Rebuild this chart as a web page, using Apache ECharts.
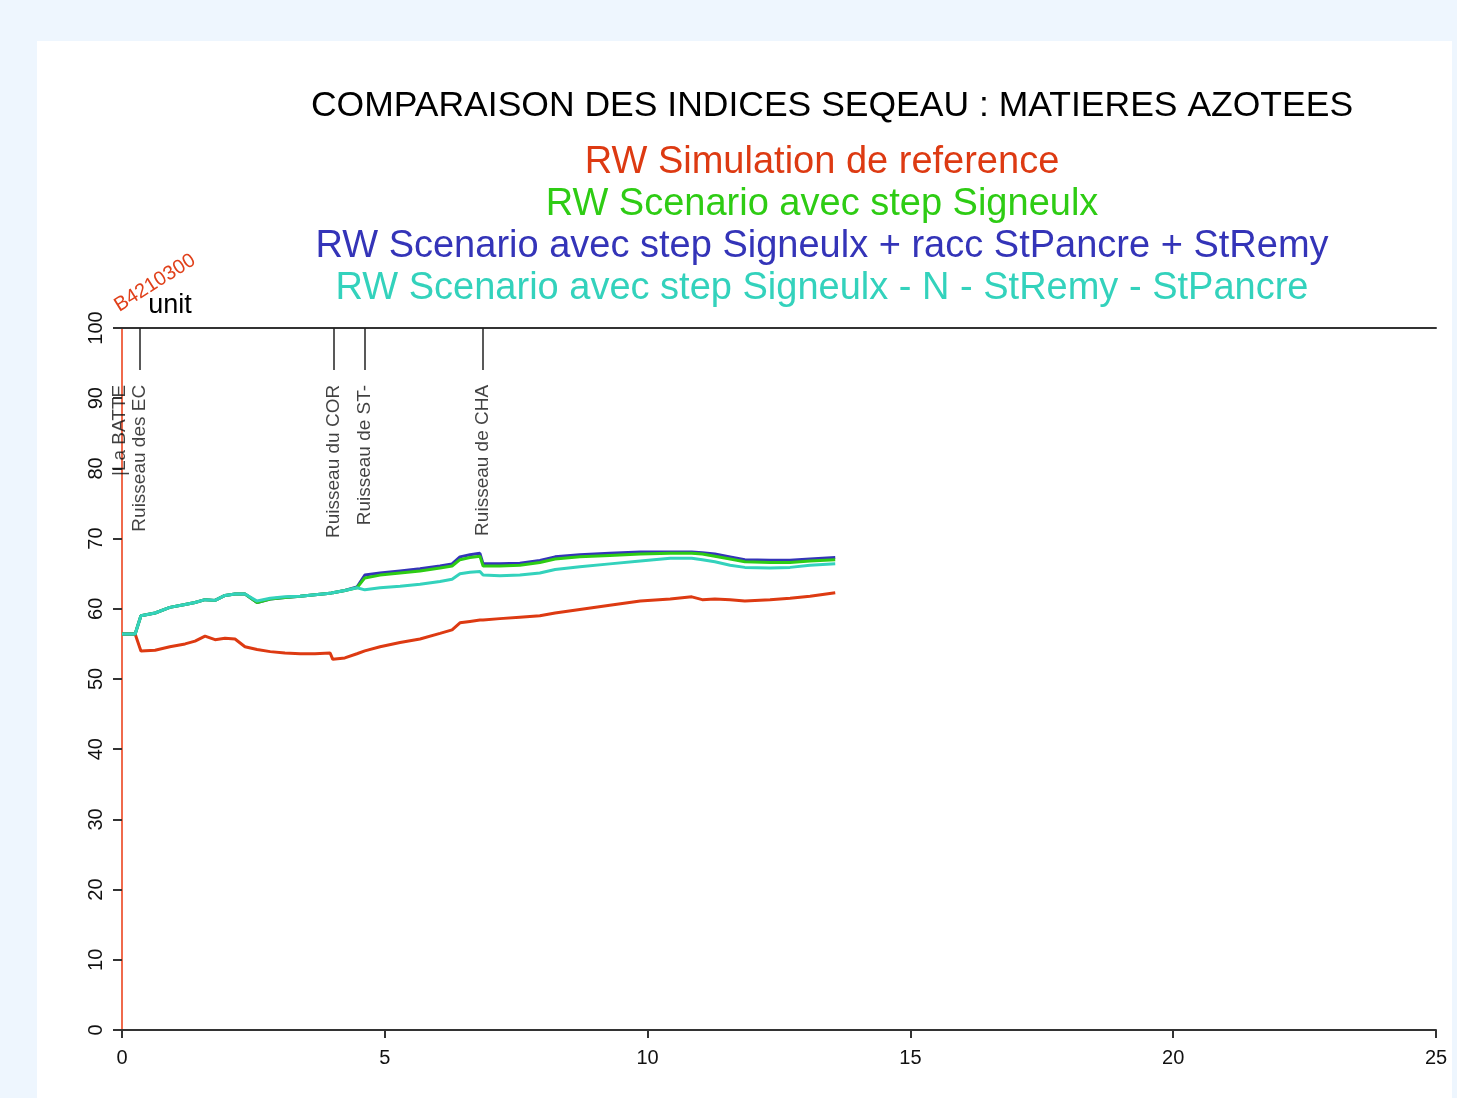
<!DOCTYPE html>
<html>
<head>
<meta charset="utf-8">
<script src="https://cdn.jsdelivr.net/npm/echarts@6/dist/echarts.min.js"></script>
<style>
html,body{margin:0;padding:0;background:#eef6fe;width:1457px;height:1098px;overflow:hidden;}
#panel{position:absolute;left:37px;top:41px;width:1415px;height:1057px;background:#ffffff;}
#chart{position:absolute;left:0;top:0;width:1457px;height:1098px;}
</style>
</head>
<body>
<div id="panel"></div>
<div id="chart"></div>
<script>
// distance along river (km)
const distance = [0,0.25,0.36,0.63,0.91,1.20,1.39,1.58,1.77,1.96,2.15,2.34,2.57,2.82,3.10,3.39,3.67,3.96,4.01,4.24,4.47,4.62,4.91,5.29,5.67,6.05,6.28,6.43,6.62,6.81,6.87,7.19,7.57,7.95,8.24,8.71,9.28,9.86,10.43,10.84,11.04,11.28,11.57,11.85,12.33,12.71,13.09,13.57];
// RW Simulation de reference
const reference = [56.4,56.4,54.0,54.1,54.6,55.0,55.4,56.1,55.6,55.8,55.7,54.6,54.2,53.9,53.7,53.6,53.6,53.7,52.8,53.0,53.6,54.0,54.6,55.2,55.7,56.5,57.0,58.0,58.2,58.4,58.4,58.6,58.8,59.0,59.4,59.9,60.5,61.1,61.4,61.7,61.3,61.4,61.3,61.1,61.3,61.5,61.8,62.3];
// RW Scenario avec step Signeulx
const scenarioStep = [56.4,56.4,59.0,59.4,60.2,60.6,60.9,61.3,61.2,61.9,62.1,62.1,60.9,61.4,61.6,61.8,62.0,62.2,62.3,62.6,63.0,64.4,64.8,65.1,65.4,65.8,66.1,67.0,67.3,67.5,66.1,66.1,66.2,66.6,67.1,67.4,67.6,67.8,67.9,67.9,67.8,67.5,67.1,66.7,66.6,66.6,66.8,67.0];
// RW Scenario avec step Signeulx + racc StPancre + StRemy
const scenarioRacc = [56.4,56.4,59.0,59.4,60.2,60.6,60.9,61.3,61.2,61.9,62.1,62.1,60.9,61.4,61.6,61.8,62.0,62.2,62.3,62.6,63.1,64.8,65.1,65.4,65.7,66.1,66.4,67.4,67.7,67.9,66.4,66.4,66.5,66.9,67.4,67.7,67.9,68.1,68.1,68.1,68.0,67.8,67.4,67.0,66.9,66.9,67.1,67.3];
// RW Scenario avec step Signeulx - N - StRemy - StPancre
const scenarioN = [56.4,56.4,59.0,59.4,60.2,60.6,60.9,61.3,61.2,61.9,62.1,62.1,61.1,61.5,61.7,61.8,62.0,62.2,62.3,62.6,63.0,62.7,63.0,63.2,63.5,63.9,64.2,65.0,65.2,65.3,64.8,64.7,64.8,65.1,65.6,66.0,66.4,66.8,67.2,67.2,67.0,66.7,66.2,65.9,65.8,65.9,66.2,66.4];

// tributary confluences
const stationNames = ['|La BATTE','Ruisseau des EC','Ruisseau du COR','Ruisseau de ST-','Ruisseau de CHA'];
const stationKm = [-0.04,0.34,4.03,4.62,6.87];
const stationTick = [false,true,true,true,true];

const xTicks = [0,5,10,15,20,25];

const seriesNames = ['RW Simulation de reference','RW Scenario avec step Signeulx','RW Scenario avec step Signeulx + racc StPancre + StRemy','RW Scenario avec step Signeulx - N - StRemy - StPancre'];
const seriesColors = ['#dd3a12','#2ecc14','#3434b8','#33d2bc'];

const zip = (xs, ys) => xs.map((x,i)=>[x,ys[i]]);

const chart = echarts.init(document.getElementById('chart'), null, {renderer:'canvas'});
const FONT = "'Liberation Sans', Arial, sans-serif";

const lineSeries = (name, data, color, z) => ({
  name, type:'line', data, symbol:'none', z,
  lineStyle:{color, width:3}, itemStyle:{color}, animation:false
});

const option = {
  backgroundColor:'transparent',
  animation:false,
  grid:{left:122, right:21, top:328, bottom:68, containLabel:false},
  xAxis:[{
    type:'value', min:0, max:25, interval:5,
    axisLine:{show:true, onZero:false, lineStyle:{color:'#333', width:2}},
    axisTick:{show:true, length:8, lineStyle:{color:'#333', width:2}},
    axisLabel:{color:'#111', fontSize:20, fontFamily:FONT, margin:18,
      customValues: xTicks},
    splitLine:{show:false}
  },{
    type:'value', min:0, max:25, position:'top',
    axisLine:{show:true, onZero:false, lineStyle:{color:'#333', width:2}},
    axisTick:{show:false}, axisLabel:{show:false}, splitLine:{show:false}
  }],
  yAxis:{
    type:'value', min:0, max:100, interval:10,
    axisLine:{show:true, onZero:false, lineStyle:{color:'#f06a4c', width:2}},
    axisTick:{show:true, length:9, lineStyle:{color:'#333', width:2}},
    axisLabel:{color:'#111', fontSize:20, fontFamily:FONT, rotate:90, margin:16},
    splitLine:{show:false}
  },
  series:[
    lineSeries(seriesNames[0], zip(distance, reference), seriesColors[0], 3),
    lineSeries(seriesNames[2], zip(distance, scenarioRacc), seriesColors[2], 4),
    lineSeries(seriesNames[1], zip(distance, scenarioStep), seriesColors[1], 5),
    lineSeries(seriesNames[3], zip(distance, scenarioN), seriesColors[3], 6),
    {
      type:'scatter', name:'stations', z:10, clip:false, silent:true,
      symbolSize:0,
      data: stationNames.map((n,i)=>({name:n, value:[stationKm[i], 91.9]})),
      label:{show:true, position:'inside', rotate:90, align:'right', verticalAlign:'middle',
        formatter:p=>p.name, color:'#111', fontSize:19, fontFamily:FONT},
      markLine:{
        silent:true, symbol:['none','none'], animation:false,
        lineStyle:{color:'#222', width:1.5, type:'solid'},
        label:{show:false},
        data: stationKm.filter((k,i)=>stationTick[i]).map(k=>[{coord:[k,100]},{coord:[k,94]}])
      }
    }
  ],
  graphic:[
    {type:'text', x:832, y:106, style:{text:'COMPARAISON DES INDICES SEQEAU : MATIERES AZOTEES', fill:'#000', font:"35.5px "+FONT, textAlign:'center', textVerticalAlign:'middle'}},
    {type:'text', x:822, y:163, style:{text:seriesNames[0], fill:seriesColors[0], font:"38px "+FONT, textAlign:'center', textVerticalAlign:'middle'}},
    {type:'text', x:822, y:205, style:{text:seriesNames[1], fill:seriesColors[1], font:"38px "+FONT, textAlign:'center', textVerticalAlign:'middle'}},
    {type:'text', x:822, y:247, style:{text:seriesNames[2], fill:seriesColors[2], font:"38px "+FONT, textAlign:'center', textVerticalAlign:'middle'}},
    {type:'text', x:822, y:289, style:{text:seriesNames[3], fill:seriesColors[3], font:"38px "+FONT, textAlign:'center', textVerticalAlign:'middle'}},
    {type:'text', x:155, y:283, rotation:0.56, style:{text:'B4210300', fill:'#e0401a', font:"20px "+FONT, textAlign:'center', textVerticalAlign:'middle'}},
    {type:'text', x:170, y:306, style:{text:'unit', fill:'#000', font:"27px "+FONT, textAlign:'center', textVerticalAlign:'middle'}}
  ]
};
chart.setOption(option);
</script>
</body>
</html>
